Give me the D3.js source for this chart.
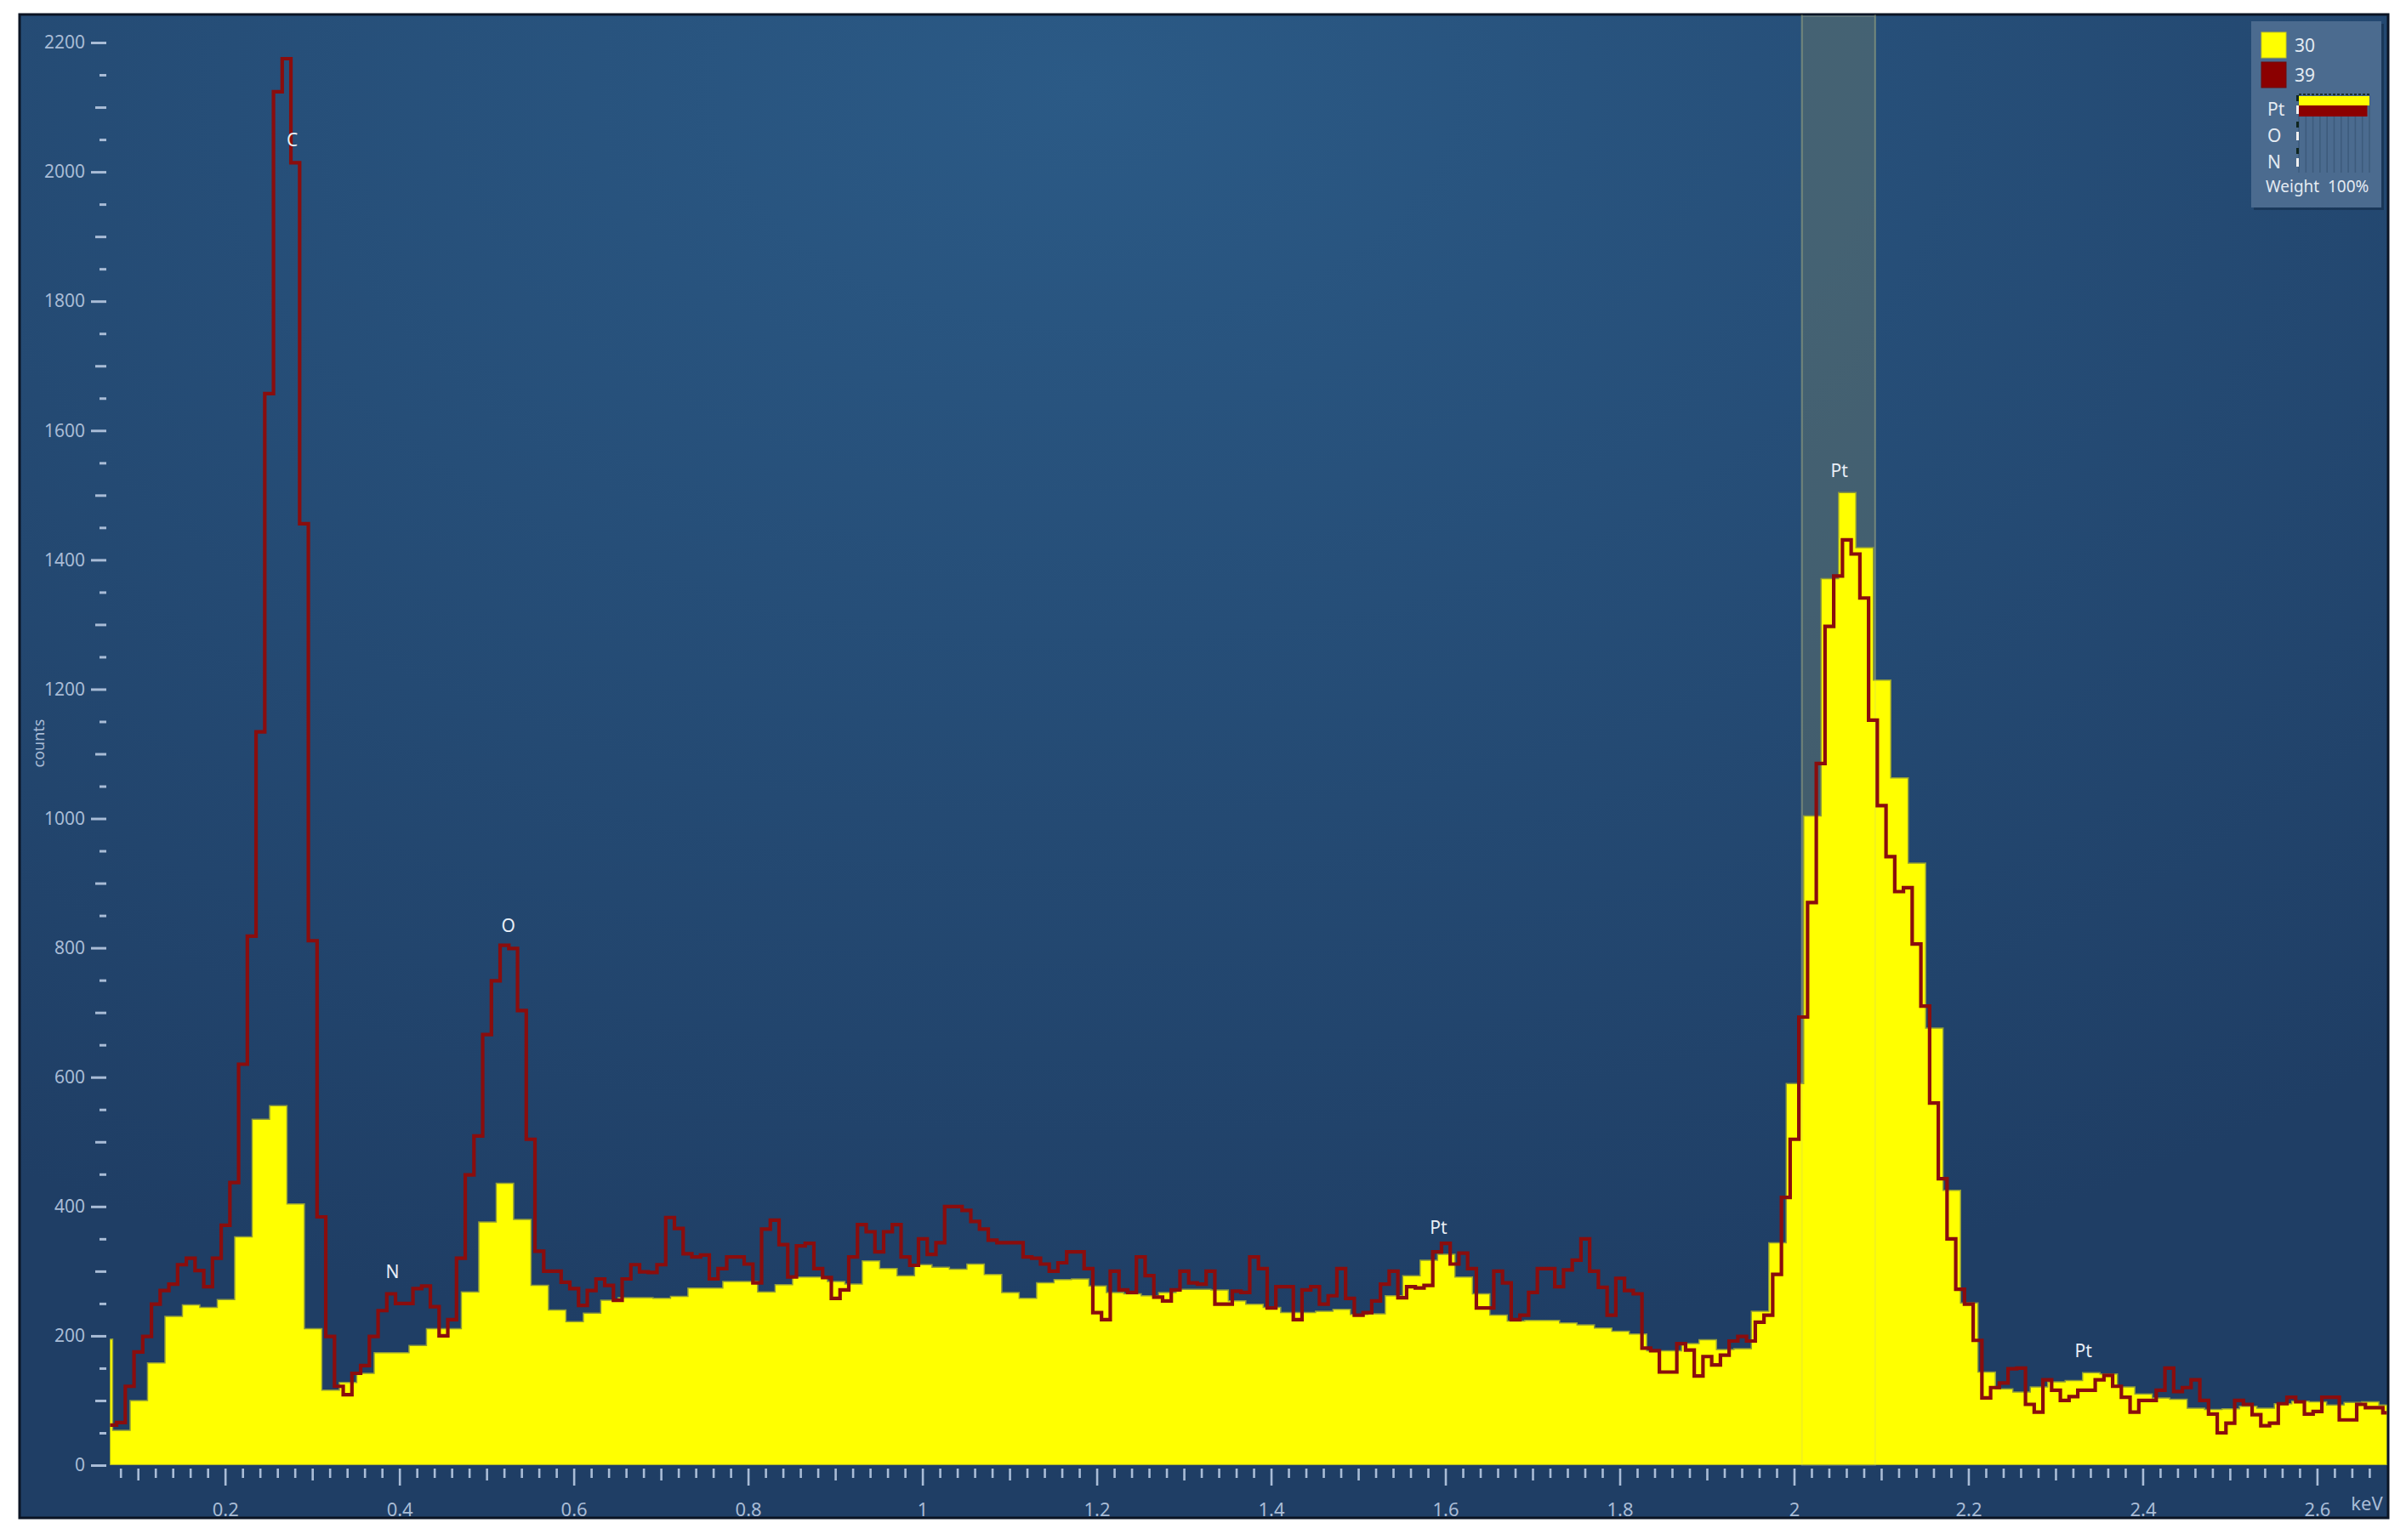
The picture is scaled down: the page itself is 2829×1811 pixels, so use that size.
<!DOCTYPE html>
<html><head><meta charset="utf-8">
<script src="https://cdn.jsdelivr.net/npm/d3@7"></script>
<style>html,body{margin:0;padding:0;background:#fff;} svg{display:block;}</style>
</head><body>
<svg id="chart" width="2829" height="1811"></svg>
<script>
// ---------- data ----------
const seriesNames = ["30", "39"];
// series "30": histogram, 0.02 keV bins starting at 0.051 keV
const yellowStart = 0.051, yellowWidth = 0.02;
const yellowCounts = [195,54,100,158,230,248,244,256,353,535,556,404,211,116,128,142,174,174,185,211,
211,268,376,436,380,278,240,222,235,255,259,259,258,261,274,274,284,284,268,279,
291,291,284,280,316,304,293,310,306,303,311,295,267,258,282,287,288,277,267,265,
262,267,272,272,271,254,249,244,236,236,238,241,233,234,262,293,317,326,291,265,
232,223,224,224,220,217,212,207,203,177,177,188,194,179,180,238,344,590,1004,1371,
1504,1419,1214,1063,931,676,425,251,144,118,113,121,129,131,143,141,121,110,104,102,
88,86,87,91,88,95,99,98,93,97,98,93];
// series "39": histogram, 0.01 keV bins starting at 0.0655 keV
const redStart = 0.0655, redWidth = 0.01;
const redCounts = [62,66,122,175,199,249,270,280,310,320,301,276,320,371,437,620,818,1134,1657,2124,
2175,2014,1456,811,384,199,122,109,142,154,199,239,265,250,250,273,277,245,200,225,
320,449,509,666,749,804,799,703,504,331,300,300,283,273,247,270,288,278,255,288,
310,299,298,310,383,366,327,322,325,288,304,322,322,311,282,365,379,341,291,339,
343,304,290,258,271,322,372,361,330,361,372,322,309,350,326,344,400,400,394,377,
365,348,344,344,344,322,320,311,300,313,330,330,304,236,225,300,271,267,322,293,
260,254,271,300,282,280,300,249,249,269,267,322,304,243,276,276,225,271,276,249,
262,304,258,232,236,254,280,300,259,276,274,278,330,343,311,328,304,243,243,300,
282,225,232,267,304,304,276,302,317,350,300,275,232,289,270,265,181,177,144,144,
188,178,138,168,155,170,192,199,192,221,232,295,414,504,693,870,1085,1297,1375,1431,
1409,1341,1152,1020,941,887,893,806,710,560,443,350,272,249,193,104,120,127,149,150,
94,82,132,116,100,106,116,116,132,139,122,105,82,100,100,116,150,114,120,132,
100,79,50,65,100,94,78,61,65,95,105,98,79,83,105,105,70,70,94,89,89,81];

const yMajorTicks = [0,200,400,600,800,1000,1200,1400,1600,1800,2000,2200];
const xMajorTicks = [0.2,0.4,0.6,0.8,1,1.2,1.4,1.6,1.8,2,2.2,2.4,2.6];
const elementNames = ["C","N","O","Pt","Pt","Pt"];
const elementEnergies = [0.277,0.392,0.525,1.592,2.052,2.332];
const elementLabelCounts = [2050,300,835,368,1538,178];
const highlightBand = [2.009, 2.093];
const legendElements = ["Pt","O","N"];
const weight30 = [100,0,0];
const weight39 = [97,0,0];

// ---------- layout ----------
const svg = d3.select("#chart");
const FONT = "'Noto Sans', 'Open Sans', sans-serif";
const frame = {x:23, y:17, w:2785, h:1768};
const x = d3.scaleLinear().domain([0.068, 2.68]).range([129.4, 2806.4]);
const y = d3.scaleLinear().domain([0, 2200]).range([1723, 50]);

const defs = svg.append("defs");
const grad = defs.append("radialGradient").attr("id","bg")
  .attr("cx","45%").attr("cy","5%").attr("r","85%");
grad.append("stop").attr("offset","0%").attr("stop-color","#2b5a86");
grad.append("stop").attr("offset","100%").attr("stop-color","#1f3e65");
defs.append("clipPath").attr("id","plotclip").append("rect")
  .attr("x", x(0.068)).attr("y", frame.y).attr("width", x(2.68)-x(0.068)).attr("height", y(0)-frame.y);

svg.append("rect").attr("x",frame.x).attr("y",frame.y).attr("width",frame.w).attr("height",frame.h)
  .attr("fill","url(#bg)").attr("stroke","#0b1424").attr("stroke-width",3);

// highlight band
svg.append("rect").attr("x", x(highlightBand[0])).attr("y", frame.y+2)
  .attr("width", x(highlightBand[1]) - x(highlightBand[0])).attr("height", y(0)-frame.y-2)
  .attr("fill","rgba(118,128,104,0.38)").attr("stroke","rgba(150,160,140,0.35)").attr("stroke-width",2);

const plot = svg.append("g").attr("clip-path","url(#plotclip)");

function stepData(counts, start, width){
  const pts = counts.map((v,i) => [start + i*width, v]);
  pts.push([start + counts.length*width, counts[counts.length-1]]);
  return pts;
}
const yData = stepData(yellowCounts, yellowStart, yellowWidth);
const rData = stepData(redCounts, redStart, redWidth);

const area = d3.area().curve(d3.curveStepAfter)
  .x(d => x(d[0])).y0(y(0)).y1(d => y(d[1]));
plot.append("path").datum(yData).attr("d", area)
  .attr("fill","#ffff00").attr("stroke","#8f9b3a").attr("stroke-width",1.5);

// faint band edges over the yellow
highlightBand.forEach(e => {
  plot.append("line").attr("x1",x(e)).attr("x2",x(e)).attr("y1",frame.y).attr("y2",y(0))
    .attr("stroke","rgba(200,200,120,0.25)").attr("stroke-width",2);
});

const line = d3.line().curve(d3.curveStepAfter).x(d => x(d[0])).y(d => y(d[1]));
plot.append("path").datum(rData).attr("d", line)
  .attr("fill","none").attr("stroke","#8a0d0d").attr("stroke-width",4.2).attr("stroke-linejoin","miter");

// ---------- axes ----------
const axisColor = "#a9bcd6";
const yAxisX = 125;
function styleAxis(g){
  g.select(".domain").remove();
  g.selectAll(".tick line").attr("stroke", axisColor).attr("stroke-width", 3);
  g.selectAll(".tick text").attr("fill", axisColor).style("font-family", FONT).style("font-size","21px");
}
const yMinor = d3.range(0, 2201, 50).filter(v => v % 100 !== 0);
const yMed = d3.range(0, 2201, 100).filter(v => v % 200 !== 0);
svg.append("g").attr("transform",`translate(${yAxisX},0)`)
  .call(d3.axisLeft(y).tickValues(yMajorTicks).tickSize(18).tickPadding(7).tickFormat(d3.format("d"))).call(styleAxis);
svg.append("g").attr("transform",`translate(${yAxisX},0)`)
  .call(d3.axisLeft(y).tickValues(yMed).tickSize(13).tickFormat("")).call(styleAxis);
svg.append("g").attr("transform",`translate(${yAxisX},0)`)
  .call(d3.axisLeft(y).tickValues(yMinor).tickSize(8).tickFormat("")).call(styleAxis);

const xAll = d3.range(4, 134).map(i => +(i*0.02).toFixed(2));
const xMed = xAll.filter(v => Math.round(v*100) % 10 === 0 && Math.round(v*100) % 20 !== 0);
const xMinor = xAll.filter(v => Math.round(v*100) % 10 !== 0);
const xAxisY = 1727;
function styleX(g){
  g.select(".domain").remove();
  g.selectAll(".tick line").attr("stroke", axisColor).attr("stroke-width", 2.6);
  g.selectAll(".tick text").attr("fill", axisColor).style("font-family", FONT).style("font-size","22px");
}
svg.append("g").attr("transform",`translate(0,${xAxisY})`)
  .call(d3.axisBottom(x).tickValues(xMajorTicks).tickSize(20).tickPadding(20).tickFormat(d => String(+d.toFixed(2)))).call(styleX);
svg.append("g").attr("transform",`translate(0,${xAxisY})`)
  .call(d3.axisBottom(x).tickValues(xMed).tickSize(14).tickFormat("")).call(styleX);
svg.append("g").attr("transform",`translate(0,${xAxisY})`)
  .call(d3.axisBottom(x).tickValues(xMinor).tickSize(11).tickFormat("")).call(styleX);

svg.append("text").attr("x", 2783).attr("y", 1767).attr("text-anchor","middle").attr("dominant-baseline","central")
  .attr("fill", axisColor).style("font-family", FONT).style("font-size","22px").text("keV");
svg.append("text").attr("transform","translate(45,874) rotate(-90)").attr("text-anchor","middle")
  .attr("dominant-baseline","central").attr("fill", axisColor).style("font-family", FONT).style("font-size","18px").text("counts");

// ---------- element labels ----------
elementNames.forEach((n,i) => {
  svg.append("text").attr("x", x(elementEnergies[i])).attr("y", y(elementLabelCounts[i]))
    .attr("text-anchor","middle").attr("dominant-baseline","central")
    .attr("fill","#e8eef6").style("font-family", FONT).style("font-size","21px").text(n);
});

// ---------- legend ----------
const lg = svg.append("g");
lg.append("rect").attr("x",2650).attr("y",28).attr("width",153).attr("height",219).attr("fill","rgba(10,25,45,0.35)");
lg.append("rect").attr("x",2647).attr("y",25).attr("width",153).attr("height",219).attr("fill","#4b6b8f");
const legendColors = ["#ffff00","#8b0000"];
seriesNames.forEach((s,i) => {
  lg.append("rect").attr("x",2659).attr("y",38+i*35).attr("width",29).attr("height",30)
    .attr("fill",legendColors[i]).attr("stroke", i===0 ? "#c9c91a" : "#6e0a0a").attr("stroke-width",1);
  lg.append("text").attr("x",2698).attr("y",53+i*35).attr("dominant-baseline","central")
    .attr("fill","#e3eaf2").style("font-family",FONT).style("font-size","21px").text(s);
});
const barX0 = 2703, barX1 = 2786;
const bx = d3.scaleLinear().domain([0,100]).range([barX0, barX1]);
d3.range(0, 11).forEach(i => {
  lg.append("line").attr("x1", barX0 + i*8.3).attr("x2", barX0 + i*8.3).attr("y1",112).attr("y2",203)
    .attr("stroke","#3d5b7c").attr("stroke-width",1.5);
});
lg.append("line").attr("x1",barX0).attr("x2",barX1).attr("y1",111).attr("y2",111)
  .attr("stroke","#1a2e2a").attr("stroke-width",2).attr("stroke-dasharray","3,2");
legendElements.forEach((el,i) => {
  const cy = 128 + i*31;
  lg.append("text").attr("x",2666).attr("y",cy).attr("dominant-baseline","central")
    .attr("fill","#e3eaf2").style("font-family",FONT).style("font-size","21px").text(el);
  lg.append("rect").attr("x",2700).attr("y",cy-16).attr("width",3).attr("height",7).attr("fill","#10261f");
  lg.append("rect").attr("x",2700).attr("y",cy-4).attr("width",3).attr("height",10).attr("fill","#f0f0f0");
  if (weight30[i] > 0) lg.append("rect").attr("x",barX0).attr("y",cy-15).attr("width",bx(weight30[i])-barX0).attr("height",11).attr("fill","#ffff00");
  if (weight39[i] > 0) lg.append("rect").attr("x",barX0).attr("y",cy-4).attr("width",bx(weight39[i])-barX0).attr("height",13).attr("fill","#8b0000");
});
lg.append("text").attr("x",2664).attr("y",219).attr("dominant-baseline","central")
  .attr("fill","#e3eaf2").style("font-family",FONT).style("font-size","19px").text("Weight");
lg.append("text").attr("x",2737).attr("y",219).attr("dominant-baseline","central")
  .attr("fill","#e3eaf2").style("font-family",FONT).style("font-size","19px").text("100%");
</script>
</body></html>
